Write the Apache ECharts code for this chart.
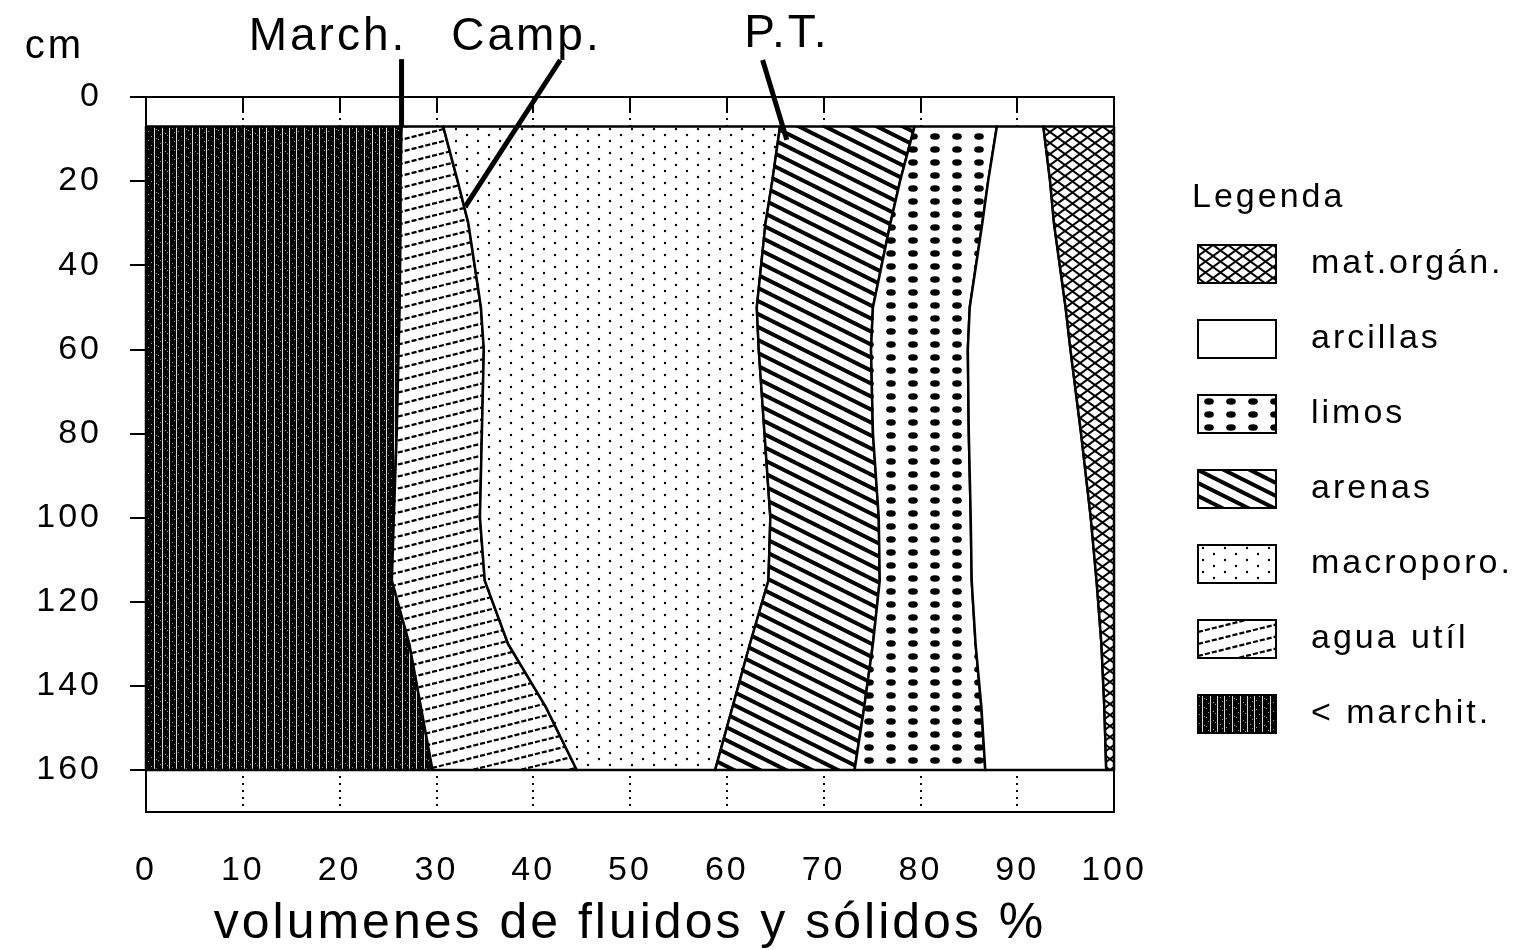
<!DOCTYPE html>
<html>
<head>
<meta charset="utf-8">
<script src="https://cdn.jsdelivr.net/npm/echarts@6/dist/echarts.min.js"></script>
<style>
  html, body { margin: 0; padding: 0; background: #fff; }
  #chart { width: 1536px; height: 950px; }
</style>
</head>
<body>
<div id="chart"></div>
<script>
// Sampling depths of the soil profile (cm)
const depths = [7, 20, 30, 50, 60, 80, 100, 115, 130, 145, 160];

// Volume % of each fraction at those depths, listed from left to right
const marchit   = [26.4, 26.3, 26.3, 26.2, 26.1, 25.9, 25.6, 25.4, 27.2, 28.4, 29.6];
const aguaUtil  = [4.3, 5.9, 7.0, 8.4, 8.8, 8.8, 8.9, 9.6, 10.2, 12.9, 14.9];
const macroporo = [34.8, 32.5, 30.7, 28.5, 28.4, 29.2, 30.0, 29.3, 25.0, 19.3, 14.3];
const arenas    = [13.9, 13.2, 12.9, 12.0, 11.6, 11.2, 11.2, 11.5, 12.7, 13.6, 14.4];
const limos     = [8.5, 9.1, 9.5, 10.0, 10.0, 9.9, 9.5, 9.5, 10.6, 12.1, 13.5];
const arcillas  = [4.8, 6.4, 7.4, 9.9, 10.6, 11.6, 12.4, 12.9, 13.0, 12.7, 12.5];
const matOrgan  = [7.3, 6.6, 6.2, 5.0, 4.5, 3.4, 2.4, 1.8, 1.3, 1.0, 0.8];

// Axis ticks
const xTicks = [0, 10, 20, 30, 40, 50, 60, 70, 80, 90, 100];
const yTicks = [0, 20, 40, 60, 80, 100, 120, 140, 160];

// Legend entries, top to bottom
const legendOrder = ['mat.orgán.', 'arcillas', 'limos', 'arenas', 'macroporo.', 'agua utíl', '< marchit.'];

// Pointer labels: text position, line start and line end in data units [%, cm]
const pointers = [
  { text: 'March.', at: [18.8, -14.3], from: [26.4, -9.0], to: [26.4, 7] },
  { text: 'Camp.',  at: [39.3, -14.3], from: [42.8, -8.8], to: [33.0, 26] },
  { text: 'P.T.',   at: [66.2, -15.0], from: [63.7, -8.8], to: [66.2, 10.2] }
];

const FONT = '"Liberation Sans", Arial, sans-serif';

// ---- fill patterns -------------------------------------------------------
function tile(w, h, draw) {
  const c = document.createElement('canvas');
  c.width = w; c.height = h;
  const g = c.getContext('2d');
  g.fillStyle = '#fff';
  g.fillRect(0, 0, w, h);
  draw(g, w, h);
  return { image: c, repeat: 'repeat' };
}

const patMarchit = tile(30, 9, (g, w, h) => {
  g.fillStyle = '#000';
  g.fillRect(0, 0, w, h);
  g.fillStyle = 'rgba(255,255,255,0.85)';
  [4, 12, 19, 26].forEach(x => g.fillRect(x, 0, 1, h));
  g.fillStyle = 'rgba(255,255,255,0.6)';
  [[1, 1], [8, 4], [15, 7], [22, 2], [28, 5], [10, 8], [24, 6], [6, 3], [17, 0]].forEach(p => g.fillRect(p[0], p[1], 1, 1));
});

const patAgua = tile(48, 12, (g, w, h) => {
  g.strokeStyle = '#000';
  g.lineWidth = 2.2;
  g.setLineDash([5.1, 2.0]);
  for (let k = -1; k <= 1; k++) {
    g.beginPath();
    g.moveTo(0, h + k * h);
    g.lineTo(w, k * h);
    g.stroke();
  }
});

const patMacro = tile(22, 12, (g) => {
  g.fillStyle = '#000';
  [[5, 3], [16, 9]].forEach(p => { g.beginPath(); g.arc(p[0], p[1], 1.2, 0, Math.PI * 2); g.fill(); });
});

const patArenas = tile(26, 13, (g, w, h) => {
  g.strokeStyle = '#000';
  g.lineWidth = 4;
  for (let k = -1; k <= 1; k++) {
    g.beginPath();
    g.moveTo(-w, -h + k * h);
    g.lineTo(2 * w, 2 * h + k * h);
    g.stroke();
  }
});

const patLimos = tile(22, 13, (g) => {
  g.fillStyle = '#000';
  g.beginPath();
  g.ellipse(11, 6.5, 4.8, 3.3, 0, 0, Math.PI * 2);
  g.fill();
});

const patArcillas = tile(4, 4, () => {});

const patMatOrgan = tile(15, 11, (g, w, h) => {
  g.strokeStyle = '#000';
  g.lineWidth = 2;
  for (let k = -1; k <= 1; k++) {
    g.beginPath(); g.moveTo(-w, -h + k * h); g.lineTo(2 * w, 2 * h + k * h); g.stroke();
    g.beginPath(); g.moveTo(-w, 2 * h + k * h); g.lineTo(2 * w, -h + k * h); g.stroke();
  }
});

// ---- stacked layers (left to right) --------------------------------------
const layers = [
  { name: '< marchit.', values: marchit,   fill: patMarchit },
  { name: 'agua utíl',  values: aguaUtil,  fill: patAgua },
  { name: 'macroporo.', values: macroporo, fill: patMacro },
  { name: 'arenas',     values: arenas,    fill: patArenas },
  { name: 'limos',      values: limos,     fill: patLimos },
  { name: 'arcillas',   values: arcillas,  fill: patArcillas },
  { name: 'mat.orgán.', values: matOrgan,  fill: patMatOrgan }
];

let running = depths.map(() => 0);
layers.forEach(layer => {
  layer.lo = running.slice();
  layer.hi = running.map((v, i) => v + layer.values[i]);
  running = layer.hi;
});

const series = layers.map(layer => ({
  type: 'custom',
  name: layer.name,
  coordinateSystem: 'cartesian2d',
  itemStyle: { color: layer.fill },
  encode: { x: [0, 1], y: 2 },
  data: depths.map((d, i) => [layer.lo[i], layer.hi[i], d]),
  renderItem: function (params, api) {
    if (params.dataIndex !== 0) return null;
    const left = depths.map((d, i) => api.coord([layer.lo[i], d]));
    const right = depths.map((d, i) => api.coord([layer.hi[i], d])).reverse();
    return {
      type: 'polygon',
      shape: { points: left.concat(right) },
      style: { fill: layer.fill, stroke: '#000', lineWidth: 2.5, lineJoin: 'round' }
    };
  }
}));

// ---- chart ---------------------------------------------------------------
const dom = document.getElementById('chart');
const chart = echarts.init(dom, null, { renderer: 'canvas' });

chart.setOption({
  animation: false,
  backgroundColor: '#fff',
  textStyle: { fontFamily: FONT, color: '#000' },
  title: {
    text: 'Legenda',
    left: 1187,
    top: 176,
    textStyle: { fontFamily: FONT, fontSize: 34, fontWeight: 'normal', color: '#000' }
  },
  legend: {
    data: legendOrder,
    orient: 'vertical',
    left: 1192,
    top: 239,
    icon: 'rect',
    itemWidth: 78,
    itemHeight: 38,
    itemGap: 35,
    selectedMode: false,
    itemStyle: { borderColor: '#000', borderWidth: 2 },
    textStyle: { fontFamily: FONT, fontSize: 34, color: '#000', padding: [0, 0, 0, 30] }
  },
  grid: {
    left: 146, top: 97, width: 968, height: 715,
    outerBoundsMode: 'none',
    containLabel: false,
    show: true, borderColor: '#000', borderWidth: 2
  },
  xAxis: {
    type: 'value', min: 0, max: 100, interval: 10, position: 'bottom',
    name: 'volumenes de fluidos y sólidos %',
    nameLocation: 'middle', nameGap: 87,
    nameTextStyle: { fontFamily: FONT, fontSize: 50, color: '#000' },
    axisLine: { show: true, lineStyle: { color: '#000', width: 2 } },
    axisTick: { show: true, length: 16, lineStyle: { color: '#000', width: 2 }, customValues: xTicks },
    axisLabel: { customValues: xTicks, fontFamily: FONT, fontSize: 34, color: '#000', margin: 42 },
    splitLine: { show: true, lineStyle: { color: '#000', width: 2, type: [2, 5] } }
  },
  yAxis: {
    type: 'value', inverse: true, min: 0, max: 170, interval: 20,
    name: 'cm', nameLocation: 'start', nameGap: 50,
    nameTextStyle: { fontFamily: FONT, fontSize: 40, color: '#000', align: 'right', verticalAlign: 'middle', padding: [0, 62, 0, 0] },
    axisLine: { show: true, lineStyle: { color: '#000', width: 2 } },
    axisTick: { show: true, length: 16, lineStyle: { color: '#000', width: 2 }, customValues: yTicks },
    axisLabel: { customValues: yTicks, fontFamily: FONT, fontSize: 34, color: '#000', margin: 44 },
    splitLine: { show: false }
  },
  series: series
});

// pointer labels with their leader lines
const graphics = [];
pointers.forEach(p => {
  const a = chart.convertToPixel({ gridIndex: 0 }, p.at);
  const f = chart.convertToPixel({ gridIndex: 0 }, p.from);
  const t = chart.convertToPixel({ gridIndex: 0 }, p.to);
  graphics.push({
    type: 'line', silent: true, z: 100,
    shape: { x1: f[0], y1: f[1], x2: t[0], y2: t[1] },
    style: { stroke: '#000', lineWidth: 5, lineCap: 'butt' }
  });
  graphics.push({
    type: 'text', silent: true, z: 100,
    style: { text: p.text, x: a[0], y: a[1], fill: '#000', font: '46px ' + FONT, align: 'center', verticalAlign: 'middle' }
  });
});
chart.setOption({ graphic: graphics });

// spaced-out lettering, applied to the painted canvas and repainted once
const mainCanvas = dom.querySelector('canvas');
if (mainCanvas) {
  const ctx = mainCanvas.getContext('2d');
  if ('letterSpacing' in ctx) {
    ctx.letterSpacing = '3px';
    chart.getZr().painter.refresh(true);
  }
}
</script>
</body>
</html>
